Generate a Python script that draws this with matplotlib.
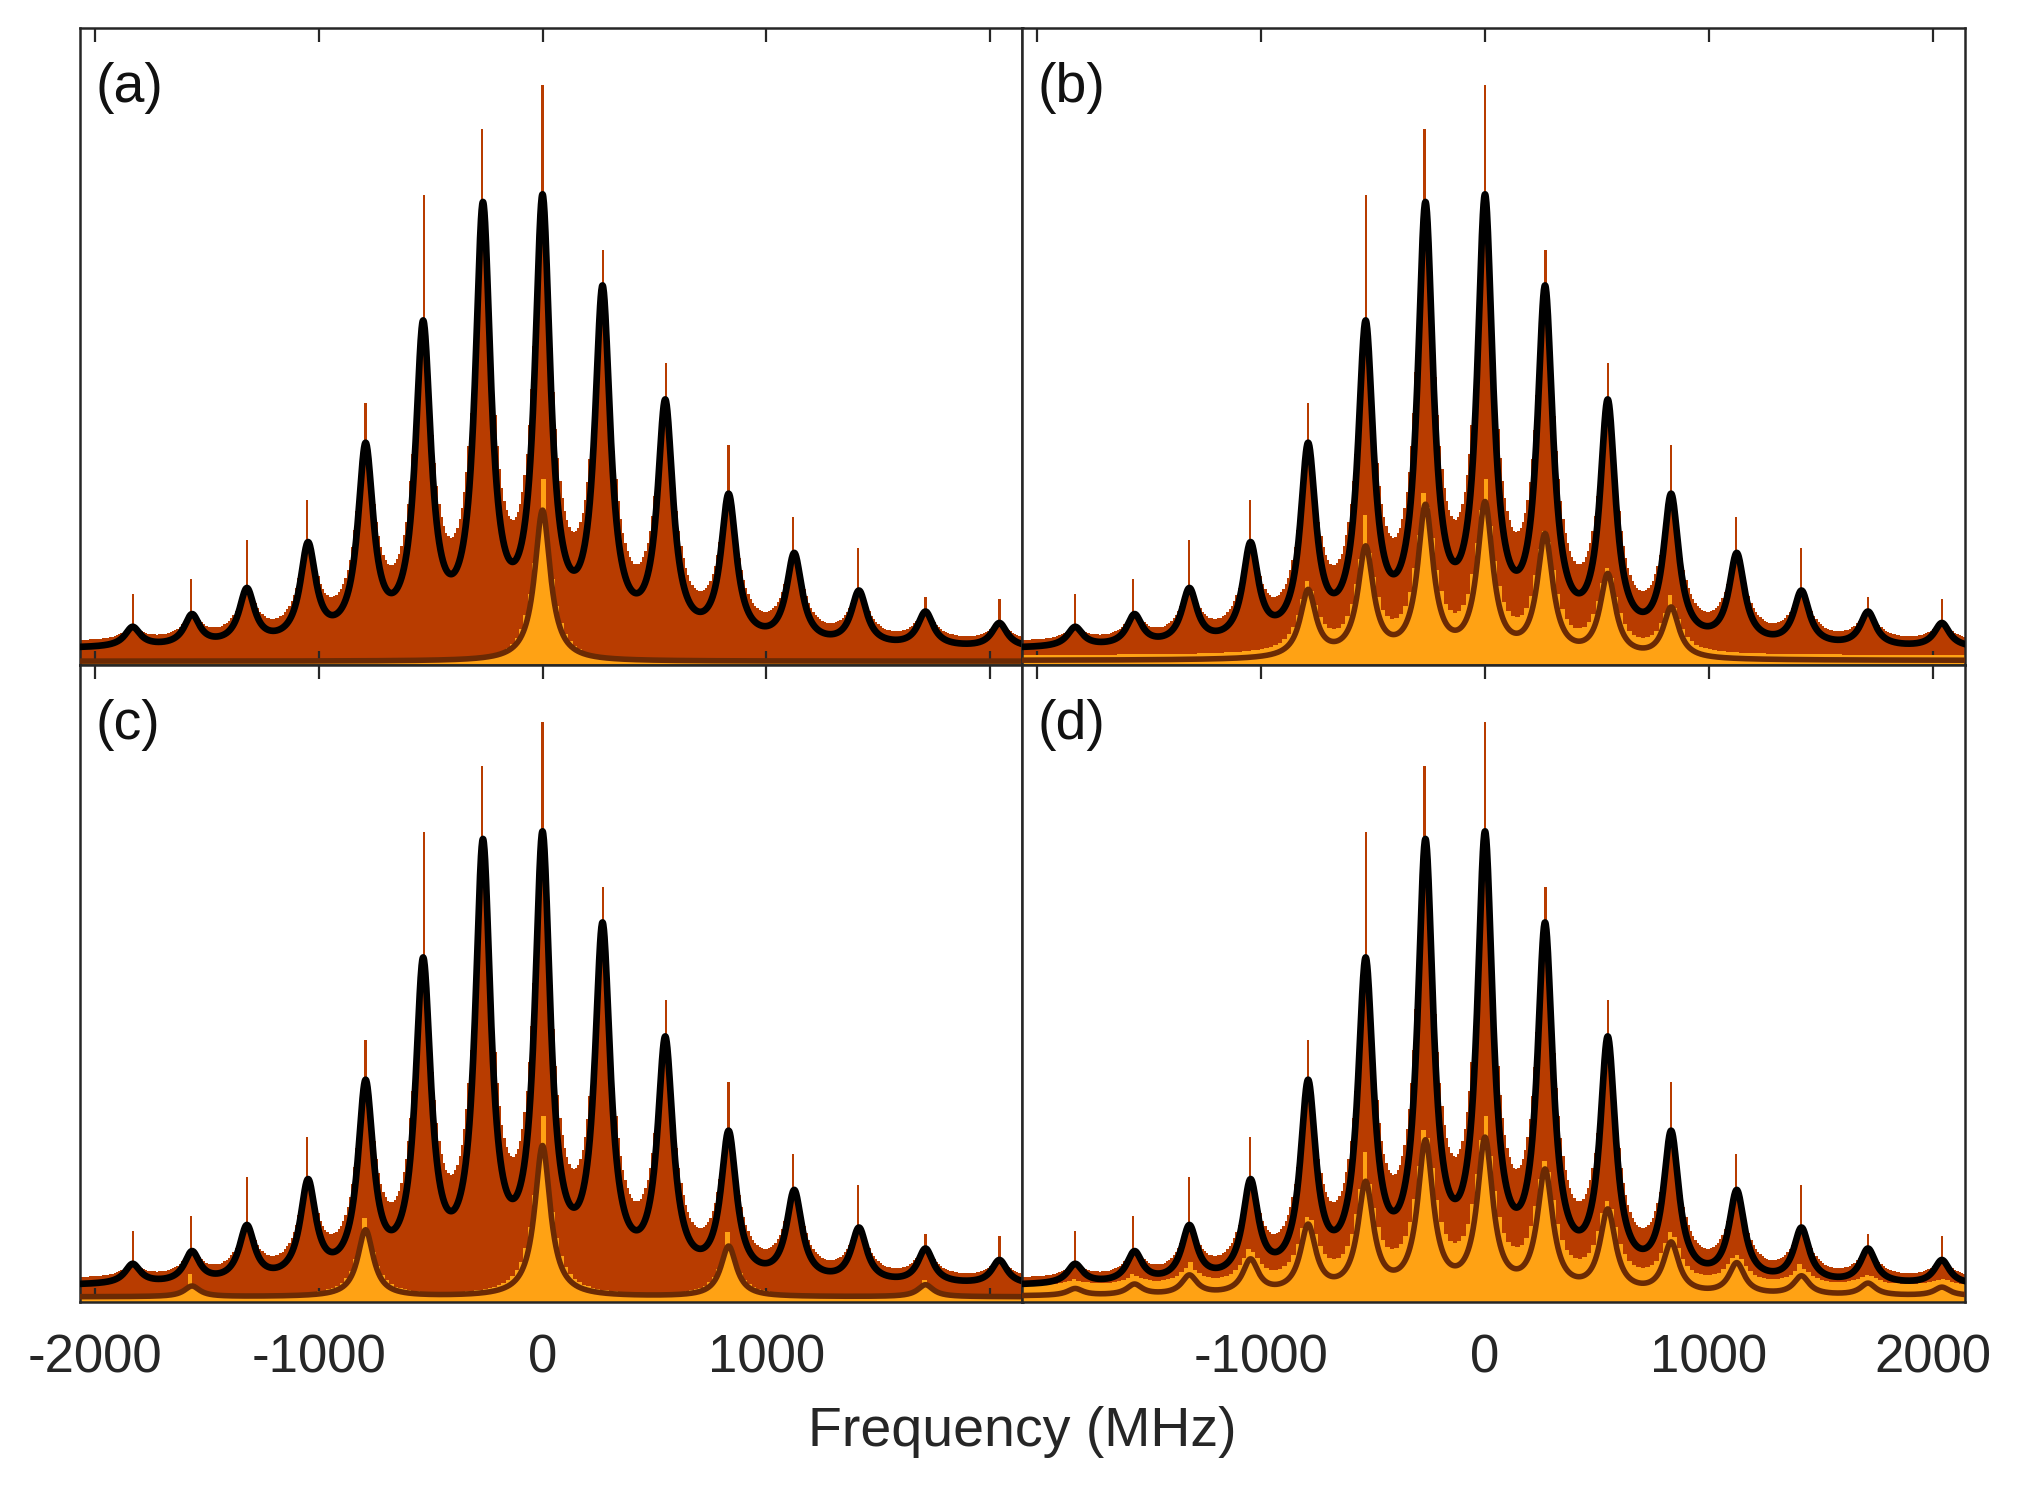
import numpy as np
import matplotlib.pyplot as plt

plt.rcParams['font.family'] = ['Liberation Sans', 'DejaVu Sans']

# comb peak positions (MHz) and fitted total height at each peak (fraction of panel height)
peak_mhz = [-1830, -1565, -1320, -1047, -790, -533, -266, 0, 268, 548, 831, 1124, 1413, 1710, 2040]
peak_height = [0.060, 0.080, 0.121, 0.193, 0.349, 0.541, 0.727, 0.739, 0.596, 0.417,
               0.269, 0.176, 0.117, 0.084, 0.066]
# tallest single histogram bin seen at each peak
spike_height = [0.112, 0.135, 0.197, 0.259, 0.412, 0.738, 0.842, 0.911, 0.651, 0.474,
                0.345, 0.233, 0.184, 0.106, 0.104]

fit_hwhm = 42.0      # MHz, fitted lines
hist_hwhm = 52.0     # MHz, histogram envelope
fit_floor = 0.025
hist_floor = 0.035
sub_share = 0.35         # orange subset / total
sub_spike_share = 0.32

panel_tags = ['(a)', '(b)', '(c)', '(d)']
# comb orders (0 = centre peak) that belong to the orange subset in each panel
sub_orders = {
    '(a)': [0],
    '(b)': [-3, -2, -1, 0, 1, 2, 3],
    '(c)': [-6, -3, 0, 3, 6],
    '(d)': [-7, -6, -5, -4, -3, -2, -1, 0, 1, 2, 3, 4, 5, 6, 7],
}
sub_floor = {'(a)': 0.006, '(b)': 0.007, '(c)': 0.008, '(d)': 0.009}
sub_hist_floor = {'(a)': 0.004, '(b)': 0.015, '(c)': 0.010, '(d)': 0.025}

tick_vals = [-2000, -1000, 0, 1000, 2000]
xmin, xmax = -2065, 2143
bin_mhz = 10       # red histogram
sub_bin_mhz = 20   # orange histogram

red = '#b83c00'
orange = '#ffa214'
brown = '#6b2a04'

pk = np.array(peak_mhz, dtype=float)


def lor(x, x0, g):
    return 1.0 / (1.0 + ((x - x0) / g) ** 2)


def amplitudes(heights, floor, g):
    m = lor(pk[:, None], pk[None, :], g)
    return np.linalg.solve(m, np.array(heights) - floor)


def comb(x, amps, g, floor):
    return floor + (amps[None, :] * lor(x[:, None], pk[None, :], g)).sum(axis=1)


def bins(width):
    e = np.arange(xmin, xmax + width, width)
    c = 0.5 * (e[:-1] + e[1:])
    near = [int(np.argmin(np.abs(c - p))) for p in peak_mhz]
    return c, near


amp_fit = amplitudes(peak_height, fit_floor, fit_hwhm)
amp_hist = amplitudes(peak_height, hist_floor, hist_hwhm)

xs = np.linspace(xmin, xmax, 3000)
centres, spike_bin = bins(bin_mhz)
sub_centres, sub_spike_bin = bins(sub_bin_mhz)

total_hist = comb(centres, amp_hist, hist_hwhm, hist_floor)
for i, b in enumerate(spike_bin):
    total_hist[b] = spike_height[i]
total_fit = comb(xs, amp_fit, fit_hwhm, fit_floor)

fig = plt.figure(figsize=(20.18, 14.94), dpi=100)
left, bottom, w, h = 80 / 2018, 1 - 1302 / 1494, 942.5 / 2018, 637 / 1494

for k, tag in enumerate(panel_tags):
    row, col = divmod(k, 2)
    ax = fig.add_axes([left + col * w, bottom + (1 - row) * h, w, h])

    keep = np.zeros(len(pk), dtype=bool)
    keep[[o + 7 for o in sub_orders[tag]]] = True

    sub_fit = comb(xs, np.where(keep, amp_fit * sub_share, 0.0), fit_hwhm, sub_floor[tag])
    sub_hist = comb(sub_centres, np.where(keep, amp_hist * sub_share, 0.0), hist_hwhm,
                    sub_hist_floor[tag])
    for i, b in enumerate(sub_spike_bin):
        if keep[i]:
            sub_hist[b] = max(sub_hist[b], spike_height[i] * sub_spike_share)

    ax.bar(centres, total_hist, width=bin_mhz, color=red, linewidth=0, zorder=1)
    ax.bar(sub_centres, sub_hist, width=sub_bin_mhz, color=orange, linewidth=0, zorder=2)
    ax.plot(xs, sub_fit, color=brown, lw=4.0, zorder=3)
    ax.plot(xs, total_fit, color='black', lw=4.8, zorder=4)

    ax.set_xlim(xmin, xmax)
    ax.set_ylim(0, 1)
    ax.set_yticks([])
    ax.set_xticks(tick_vals)
    if row == 1:
        labels = [str(v) for v in tick_vals]
        if col == 0:
            labels[-1] = ''
        else:
            labels[0] = ''
        ax.set_xticklabels(labels)
    else:
        ax.set_xticklabels([])
    ax.tick_params(axis='x', direction='in', top=True, bottom=True, length=10, width=1.6,
                   labelsize=38, pad=23, colors='#262626')
    for s in ax.spines.values():
        s.set_linewidth(1.8)
        s.set_color('#262626')
    ax.text(0.016, 0.906, tag, transform=ax.transAxes, fontsize=40, ha='left', va='center',
            color='#111111')

fig.text((80 + 1965) / 2 / 2018, 1 - 1432 / 1494, 'Frequency (MHz)', fontsize=40,
         ha='center', va='center', color='#262626')

fig.savefig('out.png', dpi=100)
